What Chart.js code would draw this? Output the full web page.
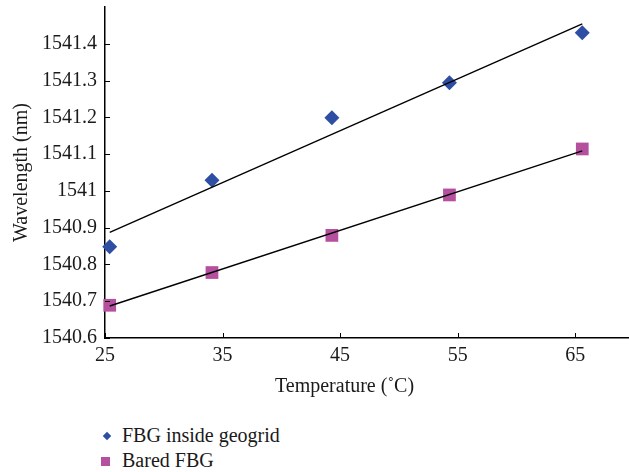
<!DOCTYPE html>
<html lang="en">
<head>
  <meta charset="UTF-8" />
  <meta name="viewport" content="width=device-width, initial-scale=1.0" />
  <title>Wavelength vs Temperature</title>
  <script src="https://cdn.jsdelivr.net/npm/chart.js"></script>
  <style>
    body { margin: 0; background: #fff; overflow: hidden; font-family: "Liberation Serif", serif; }
    .wrap { position: relative; width: 634px; height: 472px; }
    .chart { position: absolute; left: 0; top: 0; width: 634px; height: 404px; }
    .legend { position: absolute; left: 100px; top: 423px; font-size: 20px; color: #1a1a1a; line-height: 25px; }
    .legend div { position: relative; padding-left: 22px; white-space: nowrap; }
    .legend span { position: absolute; top: 50%; }
    .diamond { left: 4px; width: 6px; height: 6px; margin-top: -3px; transform: rotate(45deg); background: #2d4ea2; }
    .square { left: 1px; width: 9px; height: 9px; margin-top: -4px; background: #b5509f; }
  </style>
</head>
<body>
  <div class="wrap">
    <div class="chart"><canvas id="fbgChart"></canvas></div>
    <div class="legend" id="legend"></div>
  </div>

  <script>
    // values
    const tempInside = [25.4, 34.1, 44.3, 54.3, 65.6];
    const waveInside = [1540.848, 1541.029, 1541.199, 1541.294, 1541.43];
    const tempBared = [25.4, 34.1, 44.3, 54.3, 65.6];
    const waveBared = [1540.689, 1540.778, 1540.879, 1540.989, 1541.114];

    // linear trend lines (end points)
    const fitX = [25.4, 65.6];
    const fitInside = [1540.887, 1541.454];
    const fitBared = [1540.687, 1541.109];

    // the last entry of each is the axis end, which carries no label
    const xTicks = [25, 35, 45, 55, 65, 70];
    const yTicks = [1540.6, 1540.7, 1540.8, 1540.9, 1541, 1541.1, 1541.2, 1541.3, 1541.4, 1541.5];

    const blue = "#2d4ea2";
    const pink = "#b5509f";
    const font = { family: "'Liberation Serif', serif", size: 20 };

    const toXY = (xs, ys) => xs.map((x, i) => ({ x: x, y: ys[i] }));
    const isEnd = (arr, v) => v === arr[arr.length - 1];

    // short tick marks pointing into the plot
    const innerTicks = {
      id: "innerTicks",
      afterDraw(chart) {
        const { ctx, scales: { x, y } } = chart;
        ctx.save();
        ctx.strokeStyle = "#000";
        ctx.lineWidth = 1;
        x.ticks.forEach(t => {
          if (isEnd(xTicks, t.value)) return;
          const px = Math.round(x.getPixelForValue(t.value)) + 0.5;
          ctx.beginPath();
          ctx.moveTo(px, x.top);
          ctx.lineTo(px, x.top - 5);
          ctx.stroke();
        });
        y.ticks.forEach(t => {
          if (isEnd(yTicks, t.value)) return;
          const py = Math.round(y.getPixelForValue(t.value)) + 0.5;
          ctx.beginPath();
          ctx.moveTo(y.right, py);
          ctx.lineTo(y.right + 5, py);
          ctx.stroke();
        });
        ctx.restore();
      }
    };

    const chart = new Chart(document.getElementById("fbgChart"), {
      type: "scatter",
      data: {
        datasets: [
          {
            label: "fit inside",
            data: toXY(fitX, fitInside),
            showLine: true,
            borderColor: "#000",
            borderWidth: 1.4,
            pointRadius: 0,
            clip: false
          },
          {
            label: "fit bared",
            data: toXY(fitX, fitBared),
            showLine: true,
            borderColor: "#000",
            borderWidth: 1.4,
            pointRadius: 0,
            clip: false
          },
          {
            label: "FBG inside geogrid",
            data: toXY(tempInside, waveInside),
            pointStyle: "rectRot",
            pointRadius: 7.5,
            backgroundColor: blue,
            borderColor: blue,
            borderWidth: 0,
            clip: false
          },
          {
            label: "Bared FBG",
            data: toXY(tempBared, waveBared),
            pointStyle: "rect",
            pointRadius: 9,
            backgroundColor: pink,
            borderColor: pink,
            borderWidth: 0,
            clip: false
          }
        ]
      },
      options: {
        responsive: true,
        maintainAspectRatio: false,
        animation: false,
        layout: { autoPadding: false, padding: { top: 7, right: 0, bottom: 5, left: 0 } },
        plugins: { legend: { display: false }, tooltip: { enabled: false } },
        scales: {
          x: {
            type: "linear",
            min: 25,
            max: 70,
            afterBuildTicks: s => { s.ticks = xTicks.map(v => ({ value: v })); },
            grid: { display: false, drawTicks: false },
            border: { color: "#000", width: 1.5 },
            ticks: {
              font: font,
              color: "#1a1a1a",
              padding: 6,
              maxRotation: 0,
              callback: v => isEnd(xTicks, v) ? null : String(v)
            },
            title: {
              display: true,
              // trailing spaces pull the centred title left, as in the figure
              text: "Temperature (˚C)          ",
              font: font,
              color: "#1a1a1a",
              padding: { top: 1, bottom: 0 }
            }
          },
          y: {
            type: "linear",
            min: 1540.6,
            max: 1541.5,
            afterBuildTicks: s => { s.ticks = yTicks.map(v => ({ value: v })); },
            afterFit: s => {
              s.width = 105;
              s.paddingTop = 0;
              s.paddingBottom = 0;
            },
            grid: { display: false, drawTicks: false },
            border: { color: "#000", width: 1.5 },
            ticks: {
              font: font,
              color: "#1a1a1a",
              padding: 8,
              callback: v => isEnd(yTicks, v) ? null : String(Number(v.toFixed(1)))
            },
            title: {
              display: true,
              text: "Wavelength (nm)",
              font: font,
              color: "#1a1a1a",
              padding: { top: 10, bottom: 0 }
            }
          }
        }
      },
      plugins: [innerTicks]
    });

    // legend under the chart, one entry per line
    const legend = document.getElementById("legend");
    chart.data.datasets.slice(2).forEach(ds => {
      const row = document.createElement("div");
      const mark = document.createElement("span");
      mark.className = ds.pointStyle === "rectRot" ? "diamond" : "square";
      row.appendChild(mark);
      row.appendChild(document.createTextNode(ds.label));
      legend.appendChild(row);
    });
  </script>
</body>
</html>
